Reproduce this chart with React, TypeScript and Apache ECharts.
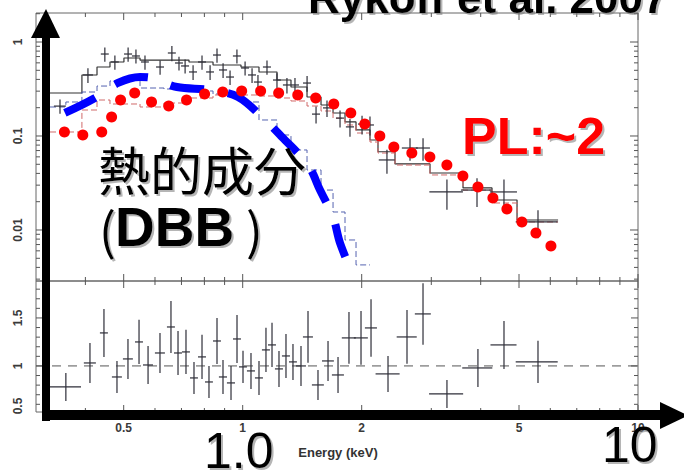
import React, { useEffect, useRef } from 'react';
import * as echarts from 'echarts';

// ---------- axis ranges ----------
const energyMin = 0.3;
const energyMax = 10;
const fluxMin = 0.002866;
const fluxMax = 2.035;
const ratioMin = 0.52;
const ratioMax = 1.885;
const ratioReference = 1;

// ---------- tick values / labels ----------
const xMajorTicks = [0.5, 1, 2, 5, 10];
const xTickLabels = ['0.5', '1', '2', '5', '10'];
const xMinorTicks = [0.4, 0.6, 0.7, 0.8, 0.9, 3, 4, 6, 7, 8, 9];
const fluxMajorTicks = [0.01, 0.1, 1];
const fluxTickLabels = ['0.01', '0.1', '1'];
const fluxMinorTicks = [
  0.003, 0.004, 0.005, 0.006, 0.007, 0.008, 0.009,
  0.02, 0.03, 0.04, 0.05, 0.06, 0.07, 0.08, 0.09,
  0.2, 0.3, 0.4, 0.5, 0.6, 0.7, 0.8, 0.9, 2,
];
const ratioMajorTicks = [0.5, 1, 1.5];
const ratioTickLabels = ['0.5', '1', '1.5'];
const ratioMinorTicks = [0.6, 0.7, 0.8, 0.9, 1.1, 1.2, 1.3, 1.4, 1.6, 1.7, 1.8];

// ---------- spectrum data (counts/s/keV) ----------
const fluxE = [0.345, 0.406, 0.448, 0.475, 0.513, 0.537, 0.566, 0.618, 0.662, 0.690, 0.715, 0.749, 0.789, 0.827, 0.861, 0.892, 0.929, 0.967, 1.014, 1.056, 1.093, 1.152, 1.221, 1.294, 1.356, 1.455, 1.533, 1.634, 1.763, 1.868, 2.004, 2.099, 2.317, 2.650, 2.859, 3.286, 3.915, 4.581, 5.585];
const fluxDE = [0.012, 0.012, 0.0104, 0.011, 0.012, 0.0125, 0.013, 0.0144, 0.0154, 0.016, 0.0167, 0.0175, 0.0184, 0.019, 0.020, 0.021, 0.0216, 0.0225, 0.0236, 0.0246, 0.0255, 0.027, 0.028, 0.030, 0.032, 0.034, 0.036, 0.038, 0.041, 0.044, 0.047, 0.049, 0.108, 0.123, 0.117, 0.32, 0.35, 0.36, 0.68];
const flux = [0.208, 0.446, 0.745, 0.613, 0.745, 0.710, 0.613, 0.542, 0.764, 0.598, 0.556, 0.480, 0.613, 0.480, 0.727, 0.504, 0.424, 0.710, 0.529, 0.446, 0.375, 0.542, 0.394, 0.349, 0.349, 0.366, 0.171, 0.199, 0.155, 0.125, 0.134, 0.131, 0.0556, 0.0745, 0.0745, 0.0254, 0.0266, 0.0254, 0.01217];
const fluxErr = [0.036, 0.08, 0.13, 0.105, 0.13, 0.12, 0.105, 0.095, 0.14, 0.10, 0.095, 0.085, 0.105, 0.085, 0.125, 0.09, 0.075, 0.12, 0.09, 0.08, 0.07, 0.095, 0.07, 0.065, 0.065, 0.07, 0.035, 0.04, 0.032, 0.027, 0.03, 0.03, 0.016, 0.02, 0.02, 0.009, 0.009, 0.009, 0.004];

// model histograms (bin edges in keV, one value per bin)
const modelEdges = [0.3255, 0.357, 0.392, 0.428, 0.4616, 0.5007, 0.5499, 0.6322, 0.7314, 0.8413, 0.9901, 1.0996, 1.2212, 1.3248, 1.4545, 1.5781, 1.6925, 1.8148, 1.935, 2.0991, 2.1992, 2.4281, 2.9776, 3.6085, 4.2726, 4.9431, 6.2776];
const totalModel = [0.2867, 0.2867, 0.4457, 0.542, 0.6126, 0.676, 0.643, 0.643, 0.6126, 0.569, 0.542, 0.4796, 0.394, 0.332, 0.260, 0.2138, 0.1757, 0.141, 0.116, 0.0907, 0.068, 0.0505, 0.0404, 0.028, 0.02085, 0.01277];
const dbbModel = [0.2035, 0.230, 0.2938, 0.340, 0.3847, 0.394, 0.324, 0.3162, 0.3012, 0.2797, 0.230, 0.148, 0.1025, 0.0710, 0.0435, 0.0266, 0.01554, 0.00783, 0.00425];
const plModel = [0.1103, 0.1103, 0.189, 0.2415, 0.219, 0.219, 0.2035, 0.2244, 0.2537, 0.273, 0.273, 0.2664, 0.2537, 0.2357, 0.2085, 0.1845, 0.155, 0.131, 0.1076, 0.0863, 0.0659, 0.0491, 0.0385, 0.0266, 0.01937, 0.01217];

// hand-drawn overlays
const dbbCurveE = [0.355, 0.4229, 0.4836, 0.5499, 0.5895, 0.6819, 0.8267, 0.973, 1.1257, 1.2571, 1.4629, 1.5688, 1.6925, 1.7628, 1.901];
const dbbCurveY = [0.1757, 0.2536, 0.3664, 0.4243, 0.414, 0.332, 0.3086, 0.26, 0.1554, 0.0976, 0.0491, 0.0266, 0.01375, 0.00727, 0.00332];
const plDotE = [0.354, 0.394, 0.440, 0.466, 0.491, 0.533, 0.588, 0.650, 0.721, 0.801, 0.890, 0.994, 1.110, 1.233, 1.378, 1.530, 1.700, 1.877, 2.036, 2.223, 2.412, 2.678, 2.975, 3.285, 3.606, 3.936, 4.295, 4.660, 5.085, 5.518, 6.022];
const plDotY = [0.110, 0.1025, 0.110, 0.159, 0.2415, 0.287, 0.230, 0.2085, 0.2415, 0.280, 0.294, 0.301, 0.301, 0.287, 0.273, 0.254, 0.219, 0.176, 0.134, 0.100, 0.0764, 0.0660, 0.0598, 0.0491, 0.0375, 0.0287, 0.0219, 0.0167, 0.01217, 0.00929, 0.00676];

// ---------- ratio data ----------
const ratioE = [0.357, 0.4108, 0.4457, 0.4808, 0.5126, 0.5467, 0.5762, 0.6177, 0.6585, 0.6861, 0.7187, 0.7530, 0.789, 0.8217, 0.861, 0.8916, 0.9342, 0.9674, 1.0018, 1.0495, 1.0996, 1.1452, 1.1862, 1.2354, 1.2868, 1.3403, 1.4044, 1.4629, 1.5505, 1.6438, 1.7424, 1.8572, 1.9921, 2.1117, 2.3313, 2.604, 2.8586, 3.2863, 3.9362, 4.5814, 5.5847];
const ratioDE = [0.033, 0.0144, 0.0104, 0.014, 0.0149, 0.0127, 0.0168, 0.018, 0.0153, 0.016, 0.0167, 0.0175, 0.0184, 0.019, 0.02, 0.021, 0.022, 0.0225, 0.023, 0.0245, 0.0256, 0.0267, 0.0276, 0.0288, 0.03, 0.031, 0.041, 0.0426, 0.054, 0.057, 0.061, 0.076, 0.081, 0.074, 0.163, 0.152, 0.133, 0.325, 0.344, 0.347, 0.68];
const ratio = [0.781, 1.031, 1.344, 0.885, 1.073, 1.25, 1.01, 1.135, 1.406, 1.135, 1.146, 0.875, 1.094, 0.833, 1.26, 0.885, 0.823, 1.281, 0.99, 0.948, 0.875, 1.167, 1.219, 0.969, 1.104, 1.042, 1.0, 1.302, 0.802, 1.052, 0.906, 1.292, 1.292, 1.396, 0.917, 1.302, 1.542, 0.708, 0.979, 1.219, 1.042];
const ratioErr = [0.146, 0.208, 0.25, 0.167, 0.208, 0.23, 0.198, 0.208, 0.27, 0.23, 0.23, 0.167, 0.23, 0.167, 0.24, 0.177, 0.177, 0.25, 0.167, 0.1875, 0.177, 0.23, 0.23, 0.1875, 0.23, 0.1875, 0.208, 0.27, 0.156, 0.208, 0.1875, 0.27, 0.28, 0.30, 0.1875, 0.28, 0.32, 0.146, 0.198, 0.25, 0.22];

// ---------- styles ----------
const LATIN = '"Liberation Sans", Arial, sans-serif';
const CJK = '"Noto Sans CJK JP", "Noto Sans CJK SC", sans-serif';
const TICK = '#555';
const LABEL = '#3a3a3a';
const DATA = '#2e2e38';

const stepData = (edges: number[], vals: number[]) =>
  edges.slice(0, vals.length + 1).map((e, i) => [e, vals[Math.min(i, vals.length - 1)]]);

function crossSeries(grid: number, e: number[], de: number[], v: number[], er: number[]) {
  return {
    type: 'custom', xAxisIndex: grid, yAxisIndex: grid, silent: true, z: 3,
    data: e.map((x, i) => [x, v[i], de[i], er[i]]),
    encode: { x: 0, y: 1 },
    renderItem: (_p: any, api: any) => {
      const x = api.value(0), y = api.value(1), dx = api.value(2), dy = api.value(3);
      const l = api.coord([x - dx, y]);
      const r = api.coord([x + dx, y]);
      const t = api.coord([x, y + dy]);
      const b = api.coord([x, Math.max(y - dy, 1e-4)]);
      const st = { stroke: DATA, lineWidth: 1.2 };
      return {
        type: 'group', children: [
          { type: 'line', shape: { x1: l[0], y1: l[1], x2: r[0], y2: r[1] }, style: st },
          { type: 'line', shape: { x1: t[0], y1: t[1], x2: b[0], y2: b[1] }, style: st },
        ],
      };
    },
  };
}

function xTickSeries(grid: number, values: number[], len: number) {
  return {
    type: 'custom', xAxisIndex: grid, yAxisIndex: grid, silent: true, z: 4,
    data: values.map((v) => [v, 1]),
    encode: { x: 0, y: 1 },
    renderItem: (params: any, api: any) => {
      const cs = params.coordSys;
      const px = api.coord([api.value(0), 1])[0];
      const st = { stroke: TICK, lineWidth: 1 };
      return {
        type: 'group', children: [
          { type: 'line', shape: { x1: px, y1: cs.y, x2: px, y2: cs.y + len }, style: st },
          { type: 'line', shape: { x1: px, y1: cs.y + cs.height, x2: px, y2: cs.y + cs.height - len }, style: st },
        ],
      };
    },
  };
}

function yTickSeries(grid: number, values: number[], len: number) {
  return {
    type: 'custom', xAxisIndex: grid, yAxisIndex: grid, silent: true, z: 4,
    data: values.map((v) => [1, v]),
    encode: { x: 0, y: 1 },
    renderItem: (params: any, api: any) => {
      const cs = params.coordSys;
      const py = api.coord([1, api.value(1)])[1];
      if (py > cs.y + cs.height + 0.5 || py < cs.y - 0.5) return { type: 'group', children: [] };
      const st = { stroke: TICK, lineWidth: 1 };
      return {
        type: 'group', children: [
          { type: 'line', shape: { x1: cs.x, y1: py, x2: cs.x + len, y2: py }, style: st },
          { type: 'line', shape: { x1: cs.x + cs.width, y1: py, x2: cs.x + cs.width - len, y2: py }, style: st },
        ],
      };
    },
  };
}

function xLabelSeries(grid: number, values: number[], labels: string[]) {
  return {
    type: 'custom', xAxisIndex: grid, yAxisIndex: grid, silent: true, z: 4,
    data: values.map((v) => [v, 1]),
    encode: { x: 0, y: 1 },
    renderItem: (params: any, api: any) => {
      const cs = params.coordSys;
      const px = api.coord([api.value(0), 1])[0];
      return {
        type: 'text', x: px, y: cs.y + cs.height + 16,
        style: {
          text: labels[params.dataIndex], fill: LABEL, fontSize: 12, fontWeight: 'bold', fontFamily: LATIN,
          align: 'center', verticalAlign: 'middle', textAlign: 'center', textVerticalAlign: 'middle',
        },
      };
    },
  };
}

function yLabelSeries(grid: number, values: number[], labels: string[]) {
  return {
    type: 'custom', xAxisIndex: grid, yAxisIndex: grid, silent: true, z: 4,
    data: values.map((v) => [1, v]),
    encode: { x: 0, y: 1 },
    renderItem: (params: any, api: any) => {
      const cs = params.coordSys;
      let py = api.coord([1, api.value(1)])[1];
      py = Math.min(py, cs.y + cs.height - 6);
      return {
        type: 'text', x: cs.x - 18, y: py, rotation: Math.PI / 2,
        style: {
          text: labels[params.dataIndex], fill: LABEL, fontSize: 12, fontWeight: 'bold', fontFamily: LATIN,
          align: 'center', verticalAlign: 'middle', textAlign: 'center', textVerticalAlign: 'middle',
        },
      };
    },
  };
}

function label(text: string, x: number, y: number, size: number, weight: string, color: string, family: string) {
  return {
    type: 'text', x, y, z: 21, silent: true,
    style: {
      text, fill: color, fontSize: size, fontWeight: weight, fontFamily: family,
      align: 'left', verticalAlign: 'middle', textAlign: 'left', textVerticalAlign: 'middle',
      textShadowColor: 'rgba(120,120,120,0.55)', textShadowBlur: 1.5, textShadowOffsetX: 2, textShadowOffsetY: 2,
    },
  };
}

const hiddenAxis = {
  axisLine: { show: false }, axisTick: { show: false }, axisLabel: { show: false },
  splitLine: { show: false }, minorTick: { show: false },
};

const option: any = {
  animation: false,
  backgroundColor: '#ffffff',
  textStyle: { fontFamily: LATIN },
  grid: [
    { left: 36, top: 13, width: 602, height: 268, show: true, borderColor: '#666', borderWidth: 1, backgroundColor: 'transparent', outerBoundsMode: 'none' },
    { left: 36, top: 281, width: 602, height: 131, show: true, borderColor: '#666', borderWidth: 1, backgroundColor: 'transparent', outerBoundsMode: 'none' },
  ],
  xAxis: [
    { type: 'log', logBase: 10, gridIndex: 0, min: energyMin, max: energyMax, ...hiddenAxis },
    { type: 'log', logBase: 10, gridIndex: 1, min: energyMin, max: energyMax, ...hiddenAxis },
  ],
  yAxis: [
    { type: 'log', logBase: 10, gridIndex: 0, min: fluxMin, max: fluxMax, ...hiddenAxis },
    { type: 'value', gridIndex: 1, min: ratioMin, max: ratioMax, ...hiddenAxis },
  ],
  series: [
    {
      type: 'line', name: 'total model', xAxisIndex: 0, yAxisIndex: 0, step: 'end', showSymbol: false, silent: true, z: 2,
      data: stepData(modelEdges, totalModel), lineStyle: { color: '#333', width: 1.2 },
    },
    {
      type: 'line', name: 'DBB model', xAxisIndex: 0, yAxisIndex: 0, step: 'end', showSymbol: false, silent: true, z: 2,
      data: stepData(modelEdges, dbbModel), lineStyle: { color: '#5563b0', width: 1, type: [6, 3] },
    },
    {
      type: 'line', name: 'PL model', xAxisIndex: 0, yAxisIndex: 0, step: 'end', showSymbol: false, silent: true, z: 2,
      data: stepData(modelEdges, plModel), lineStyle: { color: '#d06a6a', width: 1, type: [6, 3] },
    },
    crossSeries(0, fluxE, fluxDE, flux, fluxErr),
    {
      type: 'line', name: 'DBB', xAxisIndex: 0, yAxisIndex: 0, smooth: 0.35, showSymbol: false, silent: true, z: 6,
      data: dbbCurveE.map((e, i) => [e, dbbCurveY[i]]),
      lineStyle: { color: '#0000ff', width: 8, type: [34, 24], cap: 'butt', opacity: 1 },
    },
    {
      type: 'scatter', name: 'PL', xAxisIndex: 0, yAxisIndex: 0, silent: true, z: 7,
      data: plDotE.map((e, i) => [e, plDotY[i]]), symbol: 'circle', symbolSize: 11,
      itemStyle: { color: '#ff0000', opacity: 1 },
    },
    xTickSeries(0, xMajorTicks, 7),
    xTickSeries(0, xMinorTicks, 4),
    yTickSeries(0, fluxMajorTicks, 8),
    yTickSeries(0, fluxMinorTicks, 4),
    yLabelSeries(0, fluxMajorTicks, fluxTickLabels),
    {
      type: 'line', name: 'unity', xAxisIndex: 1, yAxisIndex: 1, showSymbol: false, silent: true, z: 2,
      data: [[energyMin, ratioReference], [energyMax, ratioReference]],
      lineStyle: { color: '#555', width: 1, type: [9, 7] },
    },
    crossSeries(1, ratioE, ratioDE, ratio, ratioErr),
    xTickSeries(1, xMajorTicks, 7),
    xTickSeries(1, xMinorTicks, 4),
    yTickSeries(1, ratioMajorTicks, 7),
    yTickSeries(1, ratioMinorTicks, 4),
    xLabelSeries(1, xMajorTicks, xTickLabels),
    yLabelSeries(1, ratioMajorTicks, ratioTickLabels),
  ],
  graphic: [
    // arrows
    { type: 'rect', z: 15, silent: true, shape: { x: 42, y: 34, width: 8, height: 387 }, style: { fill: '#000' } },
    { type: 'polygon', z: 15, silent: true, shape: { points: [[31, 38], [60, 38], [46, 9]] }, style: { fill: '#000' } },
    { type: 'rect', z: 15, silent: true, shape: { x: 46, y: 410, width: 616, height: 10 }, style: { fill: '#000' } },
    { type: 'polygon', z: 15, silent: true, shape: { points: [[660, 402], [660, 429], [688, 415.5]] }, style: { fill: '#000' } },
    // texts
    { type: 'text', x: 338, y: 452, z: 16, silent: true, style: { text: 'Energy (keV)', fill: '#333', fontSize: 13, fontWeight: 'bold', fontFamily: LATIN, align: 'center', verticalAlign: 'middle', textAlign: 'center', textVerticalAlign: 'middle' } },
    label('Rykoff et al. 2007', 308, -3, 44, 'bold', '#000', LATIN),
    label('熱的成分', 98, 168, 52, 'normal', '#000', CJK),
    label('(', 99, 228, 50, 'normal', '#000', CJK),
    label('DBB', 115, 227, 55, 'bold', '#000', LATIN),
    label(')', 246, 228, 50, 'normal', '#000', CJK),
    label('PL:~2', 462, 136, 52, 'bold', '#ff0000', LATIN),
    label('1.0', 204, 451, 50, 'normal', '#000', LATIN),
    label('10', 602, 445, 50, 'normal', '#000', LATIN),
  ],
};

export default function App() {
  const ref = useRef<HTMLDivElement>(null);
  useEffect(() => {
    document.body.style.margin = '0';
    const chart = echarts.init(ref.current as HTMLDivElement, undefined, { renderer: 'svg' });
    chart.setOption(option);
    return () => chart.dispose();
  }, []);
  return <div ref={ref} style={{ width: 684, height: 474, background: '#fff' }} />;
}
